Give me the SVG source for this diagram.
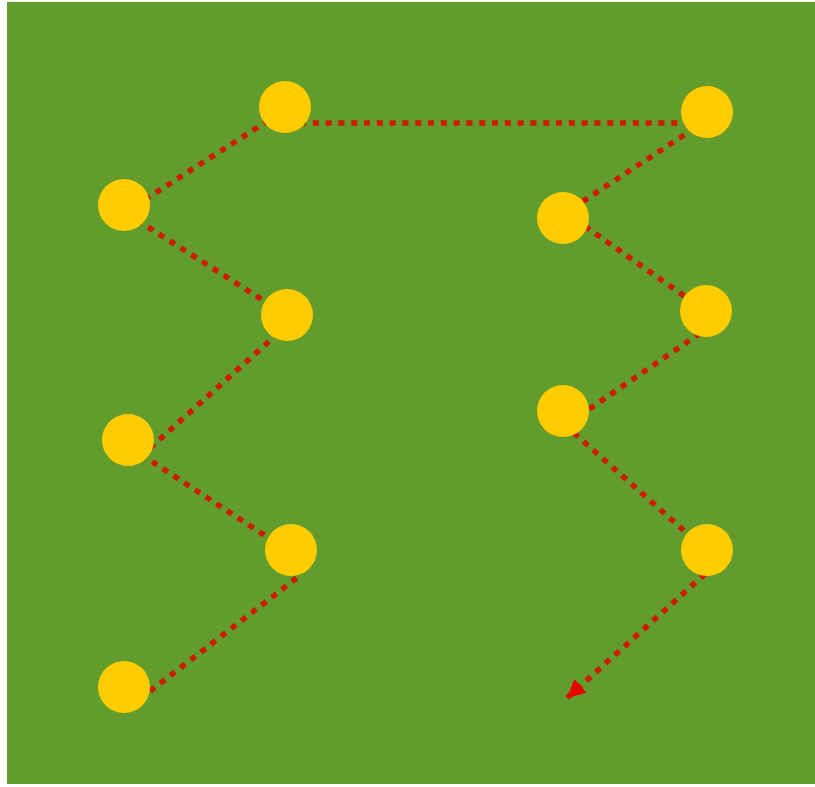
<svg xmlns="http://www.w3.org/2000/svg" width="815" height="787" viewBox="0 0 815 787">
  <style>
    .bg { fill: #629c2c; }
    .node { fill: #ffcc00; }
    .edge { stroke: #d01a00; stroke-width: 5.5; stroke-dasharray: 6 6.8; fill: none; }
  </style>
  <defs>
    <marker id="arrow" viewBox="0 0 10 10" refX="10" refY="5" markerWidth="20" markerHeight="18" markerUnits="userSpaceOnUse" orient="auto">
      <path d="M0,0 L10,5 L0,10 z" fill="#e60000"/>
    </marker>
  </defs>
  <rect x="0" y="0" width="815" height="787" fill="#ffffff"/>
  <rect class="bg" x="7" y="2" width="808" height="782"/>
  <g id="connectors">
    <line class="edge" x1="140" y1="699" x2="298" y2="577"/>
    <line class="edge" x1="275" y1="542" x2="145" y2="457"/>
    <line class="edge" x1="150" y1="448" x2="275" y2="336"/>
    <line class="edge" x1="272" y1="306" x2="140" y2="222"/>
    <line class="edge" x1="145" y1="199.5" x2="270" y2="119.5"/>
    <line class="edge" x1="300" y1="123" x2="690" y2="123"/>
    <line class="edge" x1="695" y1="128" x2="578" y2="204.5"/>
    <line class="edge" x1="585" y1="226.3" x2="692" y2="301.4"/>
    <line class="edge" x1="700" y1="333.2" x2="585" y2="412"/>
    <line class="edge" x1="574" y1="433" x2="690" y2="536"/>
    <line class="edge" x1="705" y1="574" x2="567" y2="698" marker-end="url(#arrow)"/>
  </g>
  <g id="n1"><circle class="node" cx="124" cy="205" r="26"/></g>
  <g id="n2"><circle class="node" cx="285" cy="107" r="26"/></g>
  <g id="n3"><circle class="node" cx="707" cy="112" r="26"/></g>
  <g id="n4"><circle class="node" cx="563" cy="218" r="26"/></g>
  <g id="n5"><circle class="node" cx="287" cy="315" r="26"/></g>
  <g id="n6"><circle class="node" cx="706" cy="311" r="26"/></g>
  <g id="n7"><circle class="node" cx="128" cy="440" r="26"/></g>
  <g id="n8"><circle class="node" cx="563" cy="411" r="26"/></g>
  <g id="n9"><circle class="node" cx="291" cy="550" r="26"/></g>
  <g id="n10"><circle class="node" cx="707" cy="550" r="26"/></g>
  <g id="n11"><circle class="node" cx="124" cy="687" r="26"/></g>
</svg>
